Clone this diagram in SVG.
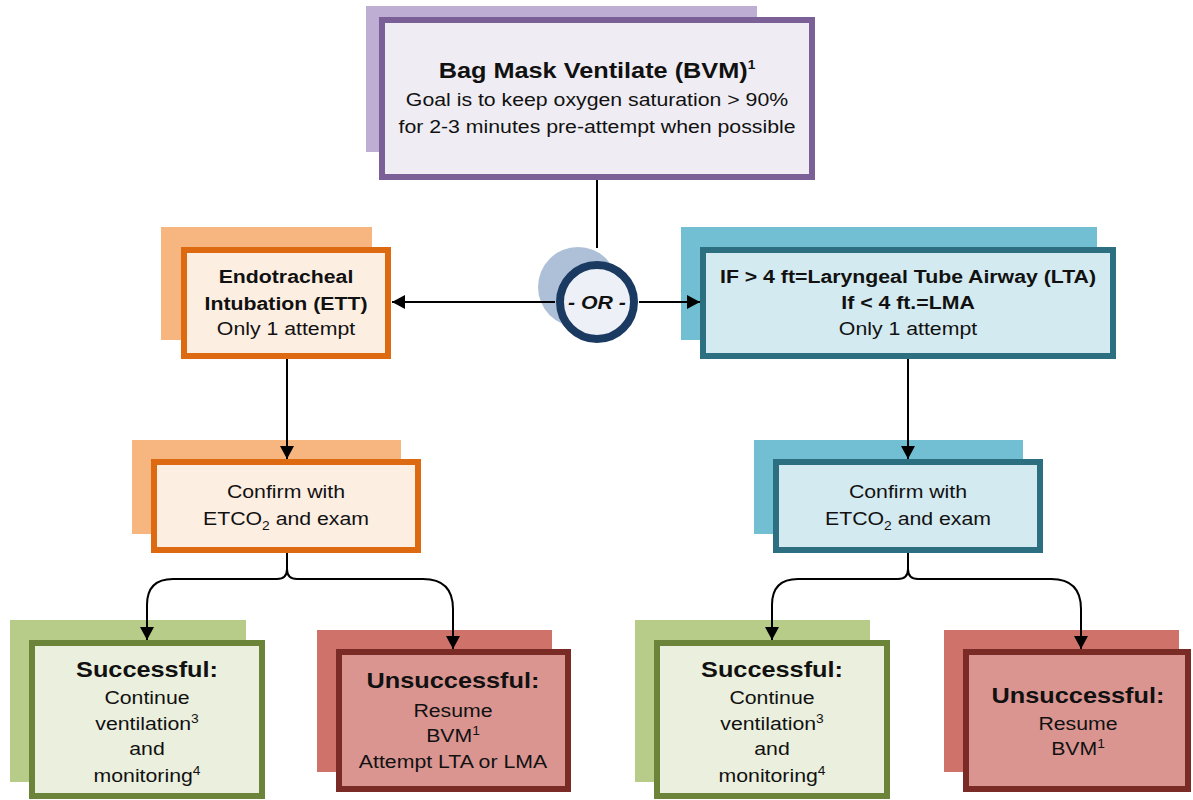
<svg xmlns="http://www.w3.org/2000/svg" width="1193" height="800" viewBox="0 0 1193 800">
  <defs>
    <marker id="arrow" markerUnits="userSpaceOnUse" markerWidth="14" markerHeight="14" refX="13" refY="7" orient="auto">
      <path d="M0,0 L13,7 L0,14 z" fill="#000"/>
    </marker>
    <style>
      text { font-family: "Liberation Sans", Arial, sans-serif; fill: #111; text-anchor: middle; }
      .t { font-size: 18.5px; }
      .b { font-weight: bold; }
      .h { font-size: 22px; font-weight: bold; }
      .sup { font-size: 12px; }
      .box { stroke-width: 6; }
      .purple .sh { fill: #bfaed3; } .purple .box { fill: #efedf3; stroke: #7a6097; }
      .orange .sh { fill: #f7b580; } .orange .box { fill: #fdeee2; stroke: #dd6a10; }
      .blue .sh { fill: #72bfd3; } .blue .box { fill: #d3eaf0; stroke: #2b6f80; }
      .green .sh { fill: #b6cc88; } .green .box { fill: #ebefdd; stroke: #6b843a; }
      .red .sh { fill: #cf726a; } .red .box { fill: #da9591; stroke: #7b2b26; }
      .conn { fill: none; stroke: #000; stroke-width: 2; }
    </style>
  </defs>

  <rect width="1193" height="800" fill="#fff"/>

  <!-- Bag mask ventilation -->
  <g id="bvm" class="purple">
    <rect class="sh" x="366" y="6" width="391" height="146"/>
    <rect class="box" x="382" y="20" width="430" height="157"/>
    <g transform="translate(597,0) scale(1.15,1)">
      <text x="0" y="78" class="h">Bag Mask Ventilate (BVM)<tspan class="sup" dy="-9">1</tspan></text>
      <text x="0" y="106" class="t">Goal is to keep oxygen saturation &gt; 90%</text>
      <text x="0" y="133" class="t">for 2-3 minutes pre-attempt when possible</text>
    </g>
  </g>

  <!-- OR junction -->
  <g id="or">
    <circle cx="578" cy="287" r="40" fill="#adc0d8"/>
    <circle cx="597" cy="302" r="37" fill="#edf0f6" stroke="#1b3a62" stroke-width="8"/>
    <g transform="translate(597,0) scale(1.15,1)">
      <text x="0" y="309" class="t b" font-style="italic">- OR -</text>
    </g>
  </g>

  <!-- Endotracheal intubation -->
  <g id="ett" class="orange">
    <rect class="sh" x="161" y="227" width="211" height="113"/>
    <rect class="box" x="184" y="250" width="204" height="106"/>
    <g transform="translate(286,0) scale(1.15,1)">
      <text x="0" y="283" class="t b">Endotracheal</text>
      <text x="0" y="310" class="t b">Intubation (ETT)</text>
      <text x="0" y="335" class="t">Only 1 attempt</text>
    </g>
  </g>

  <!-- Laryngeal tube / LMA -->
  <g id="lta" class="blue">
    <rect class="sh" x="681" y="227" width="416" height="113"/>
    <rect class="box" x="703" y="250" width="410" height="106"/>
    <g transform="translate(908,0) scale(1.15,1)">
      <text x="0" y="283" class="t b">IF &gt; 4 ft=Laryngeal Tube Airway (LTA)</text>
      <text x="0" y="309" class="t b">If &lt; 4 ft.=LMA</text>
      <text x="0" y="335" class="t">Only 1 attempt</text>
    </g>
  </g>

  <!-- Confirmation, ETT branch -->
  <g id="confirm-ett" class="orange">
    <rect class="sh" x="132" y="440" width="269" height="94"/>
    <rect class="box" x="154" y="462" width="264" height="88"/>
    <g transform="translate(286,0) scale(1.15,1)">
      <text x="0" y="498" class="t">Confirm with</text>
      <text x="0" y="525" class="t">ETCO<tspan class="sup" dy="5">2</tspan><tspan dy="-5"> and exam</tspan></text>
    </g>
  </g>

  <!-- Confirmation, LTA branch -->
  <g id="confirm-lta" class="blue">
    <rect class="sh" x="754" y="440" width="269" height="94"/>
    <rect class="box" x="776" y="462" width="264" height="88"/>
    <g transform="translate(908,0) scale(1.15,1)">
      <text x="0" y="498" class="t">Confirm with</text>
      <text x="0" y="525" class="t">ETCO<tspan class="sup" dy="5">2</tspan><tspan dy="-5"> and exam</tspan></text>
    </g>
  </g>

  <!-- Outcomes, ETT branch -->
  <g id="success-ett" class="green">
    <rect class="sh" x="10" y="620" width="236" height="162"/>
    <rect class="box" x="32" y="643" width="230" height="153"/>
    <g transform="translate(147,0) scale(1.15,1)">
      <text x="0" y="677" class="h">Successful:</text>
      <text x="0" y="704" class="t">Continue</text>
      <text x="0" y="730" class="t">ventilation<tspan class="sup" dy="-7">3</tspan></text>
      <text x="0" y="755" class="t">and</text>
      <text x="0" y="782" class="t">monitoring<tspan class="sup" dy="-7">4</tspan></text>
    </g>
  </g>

  <g id="fail-ett" class="red">
    <rect class="sh" x="317" y="630" width="235" height="142"/>
    <rect class="box" x="339" y="652" width="229" height="137"/>
    <g transform="translate(453,0) scale(1.15,1)">
      <text x="0" y="688" class="h">Unsuccessful:</text>
      <text x="0" y="717" class="t">Resume</text>
      <text x="0" y="742" class="t">BVM<tspan class="sup" dy="-7">1</tspan></text>
      <text x="0" y="768" class="t">Attempt LTA or LMA</text>
    </g>
  </g>

  <!-- Outcomes, LTA branch -->
  <g id="success-lta" class="green">
    <rect class="sh" x="635" y="620" width="235" height="162"/>
    <rect class="box" x="657" y="643" width="230" height="153"/>
    <g transform="translate(772,0) scale(1.15,1)">
      <text x="0" y="677" class="h">Successful:</text>
      <text x="0" y="704" class="t">Continue</text>
      <text x="0" y="730" class="t">ventilation<tspan class="sup" dy="-7">3</tspan></text>
      <text x="0" y="755" class="t">and</text>
      <text x="0" y="782" class="t">monitoring<tspan class="sup" dy="-7">4</tspan></text>
    </g>
  </g>

  <g id="fail-lta" class="red">
    <rect class="sh" x="944" y="630" width="235" height="142"/>
    <rect class="box" x="966" y="652" width="222" height="137"/>
    <g transform="translate(1078,0) scale(1.15,1)">
      <text x="0" y="703" class="h">Unsuccessful:</text>
      <text x="0" y="730" class="t">Resume</text>
      <text x="0" y="755" class="t">BVM<tspan class="sup" dy="-7">1</tspan></text>
    </g>
  </g>

  <!-- Connectors -->
  <g id="connectors">
    <path class="conn" d="M597,180 V248"/>
    <path class="conn" d="M555,302 H528 H392" marker-end="url(#arrow)"/>
    <path class="conn" d="M639,302 H700" marker-end="url(#arrow)"/>
    <path class="conn" d="M287,359 V459" marker-end="url(#arrow)"/>
    <path class="conn" d="M908,359 V459" marker-end="url(#arrow)"/>
    <path class="conn" d="M287,553 V569 Q287,579 277,579 H173 Q147,579 147,605 V640" marker-end="url(#arrow)"/>
    <path class="conn" d="M287,569 Q287,579 297,579 H423 Q453,579 453,609 V649" marker-end="url(#arrow)"/>
    <path class="conn" d="M908,553 V569 Q908,579 898,579 H798 Q772,579 772,605 V640" marker-end="url(#arrow)"/>
    <path class="conn" d="M908,569 Q908,579 918,579 H1051 Q1081,579 1081,609 V649" marker-end="url(#arrow)"/>
  </g>
</svg>
